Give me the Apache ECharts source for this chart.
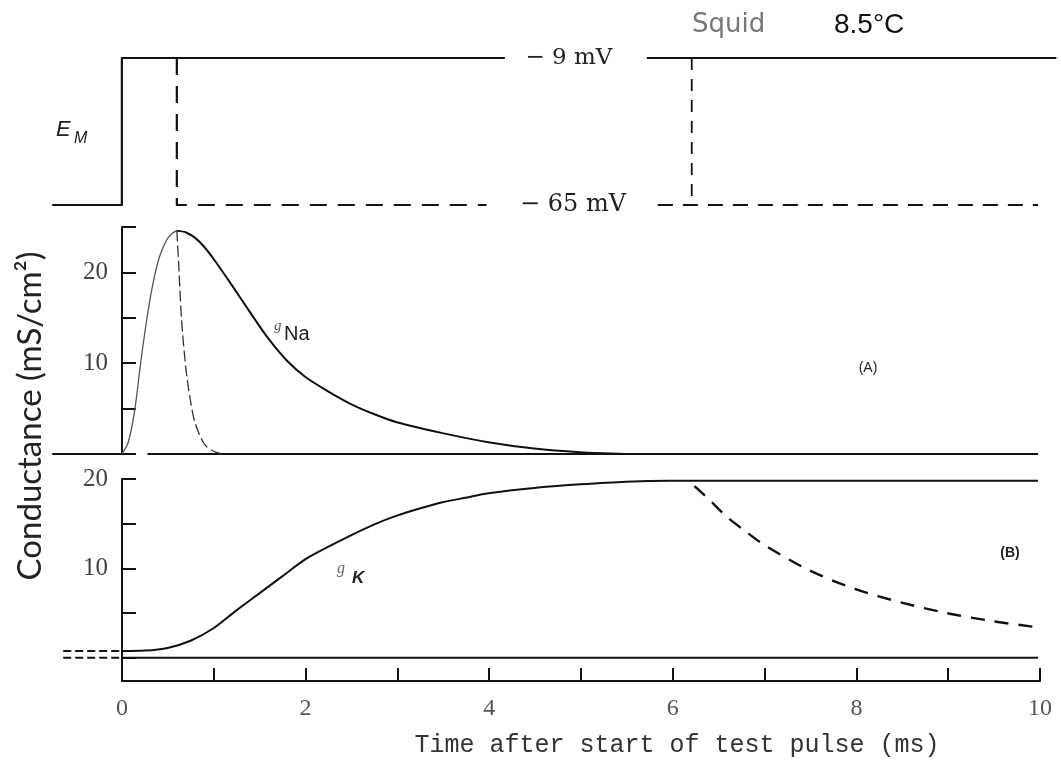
<!DOCTYPE html>
<html>
<head>
<meta charset="utf-8">
<title>Squid axon conductances during a voltage-clamp step</title>
<script src="https://cdn.jsdelivr.net/npm/echarts@6.0.0/dist/echarts.min.js"></script>
<style>
  html, body { margin: 0; padding: 0; background: #ffffff; }
  #chart { width: 1061px; height: 767px; }
</style>
</head>
<body>
<div id="chart"></div>
<script>
// ---- data -------------------------------------------------------------
// time axis (ms)
const timeTicks = [0, 1, 2, 3, 4, 5, 6, 7, 8, 9, 10];
const timeLabels = [0, 2, 4, 6, 8, 10];
// conductance axes (mS/cm^2)
const gNaTicks = [0, 5, 10, 15, 20, 25];
const gKTicks = [0, 5, 10, 15, 20];
const condLabels = [10, 20];

// membrane potential (mV): holding level and test-pulse level
const holdLevel = -65;
const pulseLevel = -9;
// pulse start, short-pulse end, long-pulse end (ms)
const pulseOn = 0;
const shortPulseOff = 0.6;
const longPulseOff = 6.22;
// trace extent (ms)
const traceStart = -0.76;
const traceEnd = 10.2;
const kTraceStart = -0.64;
// breaks in the voltage lines around their labels (ms)
const pulseLabelGap = [4.18, 5.73];
const holdLabelGap = [3.98, 5.85];

// sodium conductance, sustained pulse
const gNaTime  = [0, 0.07, 0.14, 0.2, 0.27, 0.34, 0.41, 0.49, 0.55, 0.6,
                  0.7, 0.8, 0.9, 1.0, 1.2, 1.4, 1.6, 1.8, 2.0, 2.25,
                  2.5, 2.75, 3.0, 3.5, 4.0, 4.5, 5.0, 5.5];
const gNaValue = [0, 1.3, 4.8, 9.6, 14.7, 18.8, 21.7, 23.6, 24.3, 24.6,
                  24.4, 23.8, 22.8, 21.5, 18.6, 15.6, 12.7, 10.3, 8.5, 6.9,
                  5.5, 4.4, 3.5, 2.3, 1.3, 0.6, 0.2, 0];
// sodium conductance after the short pulse ends
const gNaOffTime  = [0.6, 0.62, 0.65, 0.7, 0.75, 0.8, 0.9, 1.0, 1.1];
const gNaOffValue = [24.6, 21, 15, 9.3, 5.8, 3.4, 1.1, 0.3, 0];
// sodium zero line (broken where the rise starts)
const gNaZeroSpans = [[-0.76, 0], [0.28, 10]];

// potassium conductance, sustained pulse
const gKTime  = [0, 0.25, 0.5, 0.75, 1.0, 1.25, 1.5, 1.75, 2.0, 2.25,
                 2.5, 2.75, 3.0, 3.25, 3.5, 3.75, 4.0, 4.5, 5.0, 5.5,
                 6.0, 6.5, 7, 8, 9, 10];
const gKValue = [0.75, 0.8, 1.1, 1.9, 3.3, 5.3, 7.2, 9.1, 11.0, 12.4,
                 13.7, 14.9, 15.9, 16.7, 17.4, 17.9, 18.4, 19.0, 19.4, 19.7,
                 19.8, 19.8, 19.8, 19.8, 19.8, 19.8];
const gKRest = 0.75;
// potassium conductance after the long pulse ends
const gKOffTime  = [6.25, 6.4, 6.6, 6.8, 7.0, 7.5, 8.0, 8.5, 9.0, 9.5, 10.0];
const gKOffValue = [19.2, 17.8, 15.8, 14.2, 12.7, 9.8, 7.7, 6.2, 5.0, 4.1, 3.4];

// ---- helpers ----------------------------------------------------------
const zip = (xs, ys) => xs.map((x, i) => [x, ys[i]]);
const INK = '#111111';
const SERIF = '"Liberation Serif", "DejaVu Serif", serif';
const SANS = '"Liberation Sans", "DejaVu Sans", sans-serif';

function trace(grid, data, opts) {
  opts = opts || {};
  return {
    type: 'line',
    xAxisIndex: grid,
    yAxisIndex: grid,
    data: data,
    symbol: 'none',
    clip: false,
    silent: true,
    animation: false,
    smooth: opts.smooth || false,
    lineStyle: {
      color: opts.color || INK,
      width: opts.width || 2,
      type: opts.dash || 'solid',
      cap: 'butt',
      join: 'round'
    },
    z: 3
  };
}

// layout: one shared time scale, 0..10 ms spans plotLeft..plotLeft+plotWidth
const plotLeft = 122;
const plotWidth = 918;
const pxPerMs = plotWidth / 10;
const viewMin = -0.8;
const viewMax = 10.25;
const panels = [
  { top: 58, height: 147 },   // membrane potential
  { top: 227, height: 227 },  // g_Na
  { top: 479, height: 202 }   // g_K (bottom edge is the time axis)
];

// grids 0-2 carry the traces (they reach a little before t = 0);
// grids 3-4 carry the drawn axes, which start at t = 0
const grids = panels.map(p => ({
  left: plotLeft + viewMin * pxPerMs,
  width: (viewMax - viewMin) * pxPerMs,
  top: p.top, height: p.height
}));
grids.push({ left: plotLeft, width: plotWidth, top: panels[1].top, height: panels[1].height });
grids.push({ left: plotLeft, width: plotWidth, top: panels[2].top, height: panels[2].height });

const yRanges = [[holdLevel, pulseLevel], [0, 25], [-2.6, 20]];

const xAxes = panels.map((p, i) => ({
  type: 'value', gridIndex: i, min: viewMin, max: viewMax, show: false
}));
const yAxes = panels.map((p, i) => ({
  type: 'value', gridIndex: i, min: yRanges[i][0], max: yRanges[i][1], show: false
}));

// g_Na axis
xAxes.push({ type: 'value', gridIndex: 3, min: 0, max: 10, show: false });
yAxes.push(condAxis(3, yRanges[1][0], yRanges[1][1], gNaTicks));

// g_K axis and the time axis
xAxes.push({
  type: 'value',
  gridIndex: 4,
  min: 0,
  max: 10,
  position: 'bottom',
  axisLine: { show: true, onZero: false, lineStyle: { color: INK, width: 2 } },
  axisTick: {
    show: true, inside: true, length: 13,
    customValues: timeTicks,
    lineStyle: { color: INK, width: 2 }
  },
  axisLabel: {
    show: true, margin: 16,
    customValues: timeLabels,
    color: '#555', fontFamily: SERIF, fontSize: 24
  },
  splitLine: { show: false }
});
yAxes.push(condAxis(4, yRanges[2][0], yRanges[2][1], gKTicks));

function condAxis(grid, min, max, ticks) {
  return {
    type: 'value',
    gridIndex: grid,
    min: min,
    max: max,
    position: 'left',
    axisLine: { show: true, onZero: false, lineStyle: { color: INK, width: 2 } },
    axisTick: {
      show: true, inside: true, length: 14,
      customValues: ticks,
      lineStyle: { color: INK, width: 2 }
    },
    axisLabel: {
      show: true, margin: 14,
      customValues: condLabels,
      color: '#444', fontFamily: SERIF, fontSize: 25
    },
    splitLine: { show: false }
  };
}

// ---- voltage traces ---------------------------------------------------
const emOnA = [[traceStart, holdLevel], [pulseOn, holdLevel], [pulseOn, pulseLevel], [pulseLabelGap[0], pulseLevel]];
const emOnB = [[pulseLabelGap[1], pulseLevel], [traceEnd, pulseLevel]];
const emShortOff = [[shortPulseOff, pulseLevel], [shortPulseOff, holdLevel], [holdLabelGap[0], holdLevel]];
const emLongOff = [[longPulseOff, pulseLevel], [longPulseOff, holdLevel]];
const emHoldTail = [[holdLabelGap[1], holdLevel], [10, holdLevel]];

const nRise = gNaTime.indexOf(shortPulseOff) + 1;

const series = [
  trace(0, emOnA, { width: 2.2 }),
  trace(0, emOnB, { width: 2.2 }),
  trace(0, emShortOff, { width: 2.2, dash: [17, 11] }),
  trace(0, emLongOff, { width: 1.8, dash: [12, 9] }),
  trace(0, emHoldTail, { width: 2.2, dash: [15, 10] }),

  trace(1, [[gNaZeroSpans[0][0], 0], [pulseOn, 0]], { width: 2.2 }),
  trace(1, [[gNaZeroSpans[1][0], 0], [gNaZeroSpans[1][1], 0]], { width: 2.2 }),
  trace(1, zip(gNaTime.slice(0, nRise), gNaValue.slice(0, nRise)), { smooth: 0.3, width: 1.3, color: '#555' }),
  trace(1, zip(gNaTime.slice(nRise - 1), gNaValue.slice(nRise - 1)), { smooth: 0.3, width: 2 }),
  trace(1, zip(gNaOffTime, gNaOffValue), { smooth: 0.3, width: 1.3, color: '#333', dash: [11, 4] }),

  trace(2, [[kTraceStart, gKRest], [pulseOn, gKRest]], { width: 2, dash: [8, 4] }),
  trace(2, [[kTraceStart, 0], [pulseOn, 0]], { width: 2, dash: [8, 4] }),
  trace(2, [[pulseOn, 0], [10, 0]], { width: 2.2 }),
  trace(2, zip(gKTime, gKValue), { smooth: 0.3, width: 2 }),
  trace(2, zip(gKOffTime, gKOffValue), { smooth: 0.3, width: 2.4, dash: [14, 10] })
];

// ---- text -------------------------------------------------------------
function label(x, y, text, font, fill, align, extra) {
  return Object.assign({
    type: 'text',
    x: x, y: y,
    silent: true,
    z: 10,
    style: {
      text: text,
      font: font,
      fill: fill || INK,
      align: align || 'left',
      verticalAlign: 'middle'
    }
  }, extra || {});
}

const graphics = [
  label(30, 416, 'Conductance (mS/cm\u00B2)', '33px Lato, "Noto Sans", sans-serif', '#222', 'center', { rotation: Math.PI / 2 }),
  label(677, 745, 'Time after start of test pulse (ms)', '25px "Liberation Mono", "DejaVu Sans Mono", monospace', '#333', 'center'),
  label(569, 58, '\u2212 9 mV', '23px "DejaVu Serif", serif', '#222', 'center'),
  label(573, 205, '\u2212 65 mV', '24px "DejaVu Serif", serif', '#222', 'center'),
  label(692, 25, 'Squid', '26px "DejaVu Sans", sans-serif', '#777', 'left'),
  label(834, 25, '8.5\u00B0C', '28px ' + SANS, '#111', 'left'),
  label(56, 130, 'E', 'italic 22px ' + SANS, '#222', 'left'),
  label(74, 139, 'M', 'italic 16px ' + SANS, '#222', 'left'),
  label(274, 326, 'g', 'italic 15px ' + SERIF, '#555', 'left'),
  label(284, 334, 'Na', '20px ' + SANS, '#222', 'left'),
  label(337, 569, 'g', 'italic 16px ' + SERIF, '#666', 'left'),
  label(352, 578, 'K', 'bold italic 17px ' + SANS, '#222', 'left'),
  label(868, 368, '(A)', '14px ' + SANS, '#222', 'center'),
  label(1010, 553, '(B)', 'bold 14px ' + SANS, '#222', 'center')
];

const chart = echarts.init(document.getElementById('chart'), null, { renderer: 'canvas' });
chart.setOption({
  backgroundColor: '#ffffff',
  animation: false,
  grid: grids,
  xAxis: xAxes,
  yAxis: yAxes,
  series: series,
  graphic: graphics
});
</script>
</body>
</html>
